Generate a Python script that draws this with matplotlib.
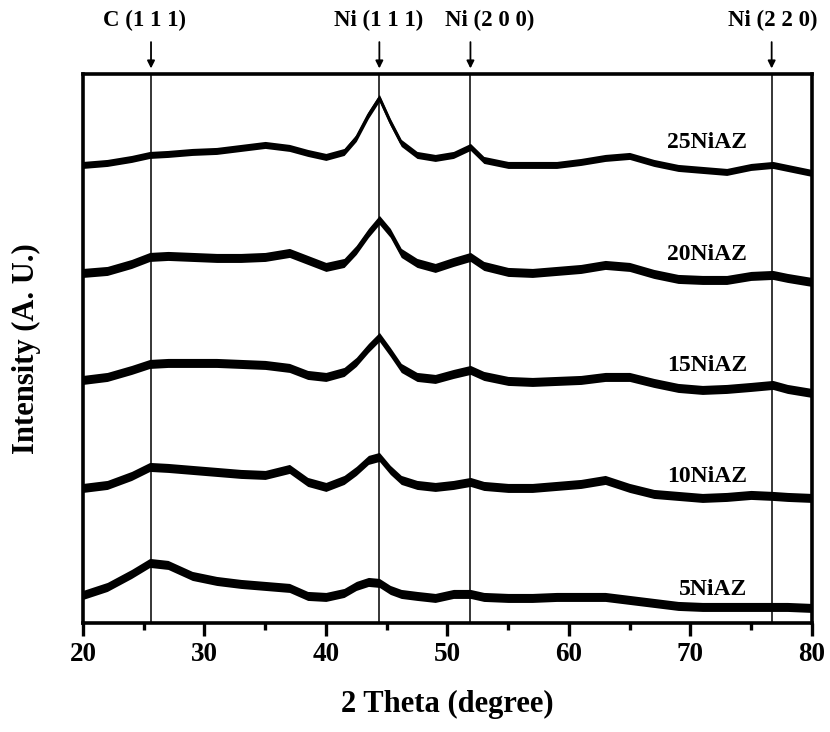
import numpy as np
import matplotlib
matplotlib.use('Agg')
import matplotlib.pyplot as plt
import matplotlib.transforms as mtransforms

plt.rcParams['font.family'] = ['Liberation Serif', 'DejaVu Serif']
plt.rcParams['font.weight'] = 'bold'

# 2 theta grid and stacked intensities (offset, arbitrary units)
two_theta = [20, 22, 24, 25.5, 27, 29, 31, 33, 35, 37, 38.5, 40, 41.5, 42.5, 43.5,
             44.4, 45.3, 46.2, 47.5, 49, 50.5, 51.9, 53, 55, 57, 59, 61, 63, 65,
             67, 69, 71, 73, 75, 76.8, 78, 80]

ni25 = [458, 460, 464, 468, 469, 471, 472, 475, 478, 475, 470, 466, 471, 485, 508,
        525, 501, 480, 468, 465, 468, 476, 463, 458, 458, 458, 461, 465, 467,
        460, 455, 453, 451, 456, 458, 455, 450]
ni20 = [350, 352, 359, 366, 367, 366, 365, 365, 366, 370, 363, 356, 360, 373, 390,
        403, 390, 370, 360, 355, 361, 366, 357, 351, 350, 352, 354, 358, 356,
        349, 344, 343, 343, 347, 348, 345, 341]
ni15 = [243, 246, 253, 259, 260, 260, 260, 259, 258, 255, 248, 246, 251, 261, 275,
        286, 271, 255, 246, 244, 249, 253, 247, 242, 241, 242, 243, 246, 246,
        240, 235, 233, 234, 236, 238, 234, 230]
ni10 = [135, 138, 147, 156, 155, 153, 151, 149, 148, 154, 141, 136, 143, 152, 163,
        166, 153, 143, 138, 136, 138, 141, 137, 135, 135, 137, 139, 143, 135,
        129, 127, 125, 126, 128, 127, 126, 125]
ni5 = [28, 36, 49, 60, 58, 47, 42, 39, 37, 35, 27, 26, 30, 37, 41,
       40, 33, 29, 27, 25, 29, 29, 26, 25, 25, 26, 26, 26, 23,
       20, 17, 16, 16, 16, 16, 16, 15]

samples = ['25NiAZ', '20NiAZ', '15NiAZ', '10NiAZ', '5NiAZ']
series = [ni25, ni20, ni15, ni10, ni5]
noise_half = [3.5, 4.5, 4.5, 4.5, 4.5]    # half-width of the noise band
label_y = [480, 368, 257, 146, 33]

# reflection positions
peak_pos = [25.6, 44.4, 51.9, 76.7]
peak_names = ['C (1 1 1)', 'Ni (1 1 1)', 'Ni (2 0 0)', 'Ni (2 2 0)']
peak_label_x = [25.1, 44.3, 53.5, 76.8]

fig = plt.figure(figsize=(8.3, 7.32), dpi=100)
ax = fig.add_axes([0.1, 0.149, 0.878, 0.75])

for name, y, hw, ly in zip(samples, series, noise_half, label_y):
    y = np.array(y, dtype=float)
    ax.fill_between(two_theta, y - hw, y + hw, color='black', lw=0)
    ax.plot(two_theta, y, color='black', lw=2, solid_joinstyle='round')
    ax.text(74.7, ly, name, ha='right', va='center', fontsize=17, fontweight='bold')

trans = mtransforms.blended_transform_factory(ax.transData, ax.transAxes)
for p, nm, lx in zip(peak_pos, peak_names, peak_label_x):
    ax.axvline(p, color='black', lw=1.1)
    ax.annotate('', xy=(p, 1.01), xycoords=trans, xytext=(p, 1.058), textcoords=trans,
                arrowprops=dict(arrowstyle='-|>', color='black', lw=1.3,
                                mutation_scale=11, shrinkA=0, shrinkB=0),
                annotation_clip=False)
    ax.text(lx, 1.098, nm, transform=trans, ha='center', va='center',
            fontsize=16.5, fontweight='bold')

ax.set_xlim(20, 80)
ax.set_ylim(0, 549)
ax.set_xticks([20, 30, 40, 50, 60, 70, 80])
ax.set_xticks([25, 35, 45, 55, 65, 75], minor=True)
ax.set_yticks([])
ax.tick_params(axis='x', which='major', direction='out', length=9, width=2.4,
               labelsize=19.5, pad=5)
ax.tick_params(axis='x', which='minor', direction='out', length=5, width=2.4)
for lab in ax.get_xticklabels():
    lab.set_fontweight('bold')
for sp in ax.spines.values():
    sp.set_linewidth(2.6)

ax.set_xlabel('2 Theta (degree)', fontsize=22, fontweight='bold', labelpad=16)
ax.set_ylabel('Intensity (A. U.)', fontsize=22, fontweight='bold', labelpad=30)

fig.savefig('out.png', dpi=100)
